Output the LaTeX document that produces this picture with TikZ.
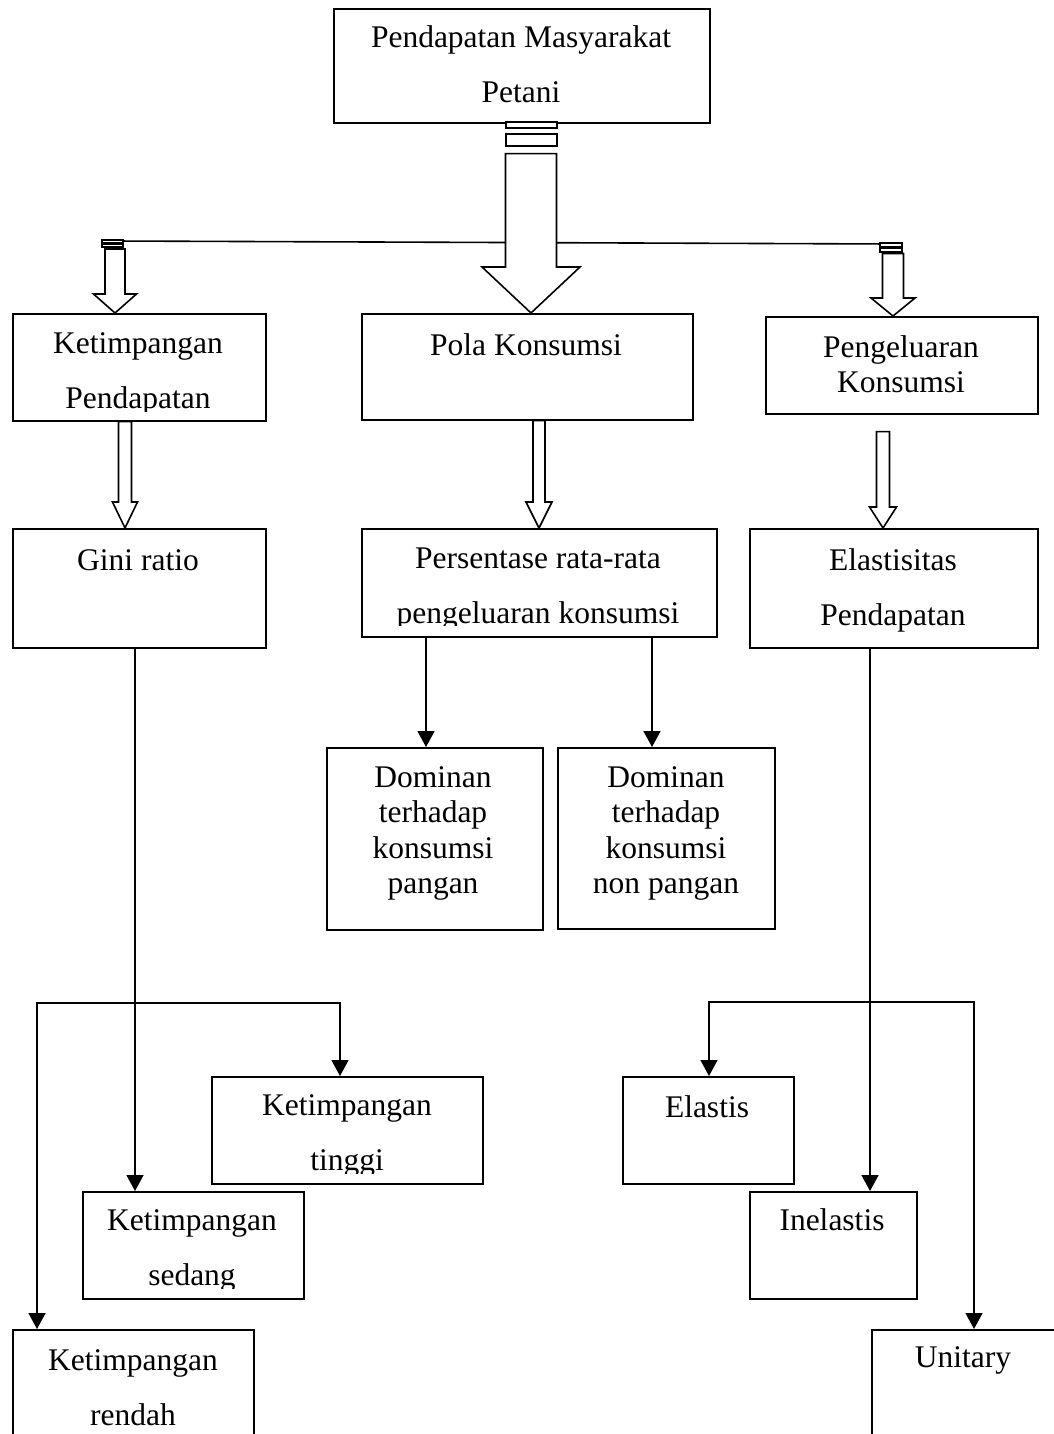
\documentclass[tikz,border=0pt]{standalone}
\usepackage{fontspec}
\setmainfont{Liberation Serif}
\usetikzlibrary{calc,arrows.meta}

\tikzset{
	box/.style={draw, line width=1.6pt, anchor=north west, inner sep=0pt},
	txt/.style={anchor=base, inner sep=0pt, font=\fontsize{31.5}{55}\selectfont},
	txtsingle/.style={anchor=base, inner sep=0pt, font=\fontsize{31.5}{35.5}\selectfont},
	ln/.style={line width=1.6pt, -{Triangle[length=16pt, width=17pt]}},
	fat/.style={line width=1.6pt, fill=white, line join=miter}
}
\newcommand{\boxtext}[1]{\parbox[t]{400pt}{\centering #1}}
% start, tip, half shaft, half head, head length
\newcommand{\fatarrow}[5]{%
	\draw[fat] let \p1=(#1), \p2=(#2) in
		(\x2-#3,\y1) -- (\x2-#3,\y2+#5) -- (\x2-#4,\y2+#5) -- (\x2,\y2)
		-- (\x2+#4,\y2+#5) -- (\x2+#3,\y2+#5) -- (\x2+#3,\y1) -- cycle;}

\begin{document}
\begin{tikzpicture}[x=1pt, y=-1pt]
		%%%%% START %%%%%
		\useasboundingbox (0,0) rectangle (1054,1434);
		\clip (0,0) rectangle (1054,1434);
		
		\node[box, minimum width=376, minimum height=114] (pendapatan) at (333,8) {};
		\node[txt] (pendapatan-t) at (521,48) {\boxtext{Pendapatan Masyarakat\\Petani}};
		
		\node[box, minimum width=253, minimum height=107] (ketimp) at (12,313) {};
		\begin{scope}
			\clip (ketimp.north west) rectangle ([yshift=10pt]ketimp.south east);
			\node[txt] (ketimp-t) at (138,353) {\boxtext{Ketimpangan\\Pendapatan}};
		\end{scope}
		\node[box, minimum width=331, minimum height=106] (pola) at (361,313) {};
		\node[txt] (pola-t) at (526,355) {\boxtext{Pola Konsumsi}};
		\node[box, minimum width=272, minimum height=97] (pengel) at (765,316) {};
		\node[txtsingle] (pengel-t) at (901,357) {\boxtext{Pengeluaran\\Konsumsi}};
		
		\node[box, minimum width=253, minimum height=119] (gini) at (12,528) {};
		\node[txt] (gini-t) at (138,570) {\boxtext{Gini ratio}};
		\node[box, minimum width=355, minimum height=108] (persen) at (361,528) {};
		\begin{scope}
			\clip (persen.north west) rectangle ([yshift=12pt]persen.south east);
			\node[txt] (persen-t) at (538,568) {\boxtext{Persentase rata-rata\\pengeluaran konsumsi}};
		\end{scope}
		\node[box, minimum width=288, minimum height=119] (elastp) at (749,528) {};
		\node[txt] (elastp-t) at (893,570) {\boxtext{Elastisitas\\Pendapatan}};
		
		\node[box, minimum width=216, minimum height=182] (dom1) at (326,747) {};
		\node[txtsingle] (dom1-t) at (433,787) {\boxtext{Dominan\\terhadap\\konsumsi\\pangan}};
		\node[box, minimum width=217, minimum height=181] (dom2) at (557,747) {};
		\node[txtsingle] (dom2-t) at (666,787) {\boxtext{Dominan\\terhadap\\konsumsi\\non pangan}};
		
		\node[box, minimum width=271, minimum height=107] (tinggi) at (211,1076) {};
		\begin{scope}
			\clip (tinggi.north west) rectangle ([yshift=11pt]tinggi.south east);
			\node[txt] (tinggi-t) at (347,1115) {\boxtext{Ketimpangan\\tinggi}};
		\end{scope}
		\node[box, minimum width=221, minimum height=107] (sedang) at (82,1191) {};
		\begin{scope}
			\clip (sedang.north west) rectangle ([yshift=11pt]sedang.south east);
			\node[txt] (sedang-t) at (192,1230) {\boxtext{Ketimpangan\\sedang}};
		\end{scope}
		\node[box, minimum width=241, minimum height=130] (rendah) at (12,1329) {};
		\node[txt] (rendah-t) at (133,1370) {\boxtext{Ketimpangan\\rendah}};
		
		\node[box, minimum width=171, minimum height=107] (elastis) at (622,1076) {};
		\node[txt] (elastis-t) at (707,1117) {\boxtext{Elastis}};
		\node[box, minimum width=167, minimum height=107] (inelastis) at (749,1191) {};
		\node[txt] (inelastis-t) at (832,1230) {\boxtext{Inelastis}};
		\node[box, minimum width=200, minimum height=130] (unitary) at (871,1329) {};
		\node[txt] (unitary-t) at (963,1367) {\boxtext{Unitary}};
		
		% block arrows
		\coordinate (lbar) at (112,241);
		\coordinate (rbar) at (891,244);
		\draw[line width=1.6pt] (lbar) -- (rbar);
		
		\draw[fat] (506,122) rectangle (557,128);
		\draw[fat] (506,134) rectangle (557,146);
		\fatarrow{[yshift=-30pt]pendapatan.south}{[xshift=170pt]pola.north west}{25.5pt}{49pt}{46pt}
		
		\draw[fat] (102,240) rectangle (123,243);
		\draw[fat] (102,244.5) rectangle (123,247);
		\fatarrow{[yshift=-8pt]lbar}{[xshift=103pt]ketimp.north west}{10pt}{21.5pt}{19pt}
		\draw[fat] (880,243) rectangle (902,247);
		\draw[fat] (880,248.5) rectangle (902,252);
		\fatarrow{[yshift=-9.5pt]rbar}{[xshift=128pt]pengel.north west}{10.5pt}{22pt}{18pt}
		
		\fatarrow{ketimp.south}{[xshift=113pt]gini.north west}{6.5pt}{12.5pt}{26pt}
		\fatarrow{pola.south}{[xshift=178pt]persen.north west}{6pt}{13pt}{26pt}
		\fatarrow{[yshift=-17pt]pengel.south}{[xshift=134pt]elastp.north west}{6.5pt}{13.5pt}{21pt}
		
		% line arrows
		\draw[ln] ([xshift=65pt]persen.south west) -- ([xshift=100pt]dom1.north west);
		\draw[ln] ([xshift=291pt]persen.south west) -- ([xshift=95pt]dom2.north west);
		
		\coordinate (lsplit) at (135,1003);
		\draw[ln] ([xshift=123pt]gini.south west) -- ([xshift=53pt]sedang.north west);
		\draw[ln] (lsplit) -| ([xshift=129pt]tinggi.north west);
		\draw[ln] (lsplit) -| ([xshift=25pt]rendah.north west);
		
		\coordinate (rsplit) at (870,1002);
		\draw[ln] ([xshift=121pt]elastp.south west) -- ([xshift=121pt]inelastis.north west);
		\draw[ln] (rsplit) -| ([xshift=87pt]elastis.north west);
		\draw[ln] (rsplit) -| ([xshift=103pt]unitary.north west);
		%%%%% END %%%%%
\end{tikzpicture}
\end{document}
